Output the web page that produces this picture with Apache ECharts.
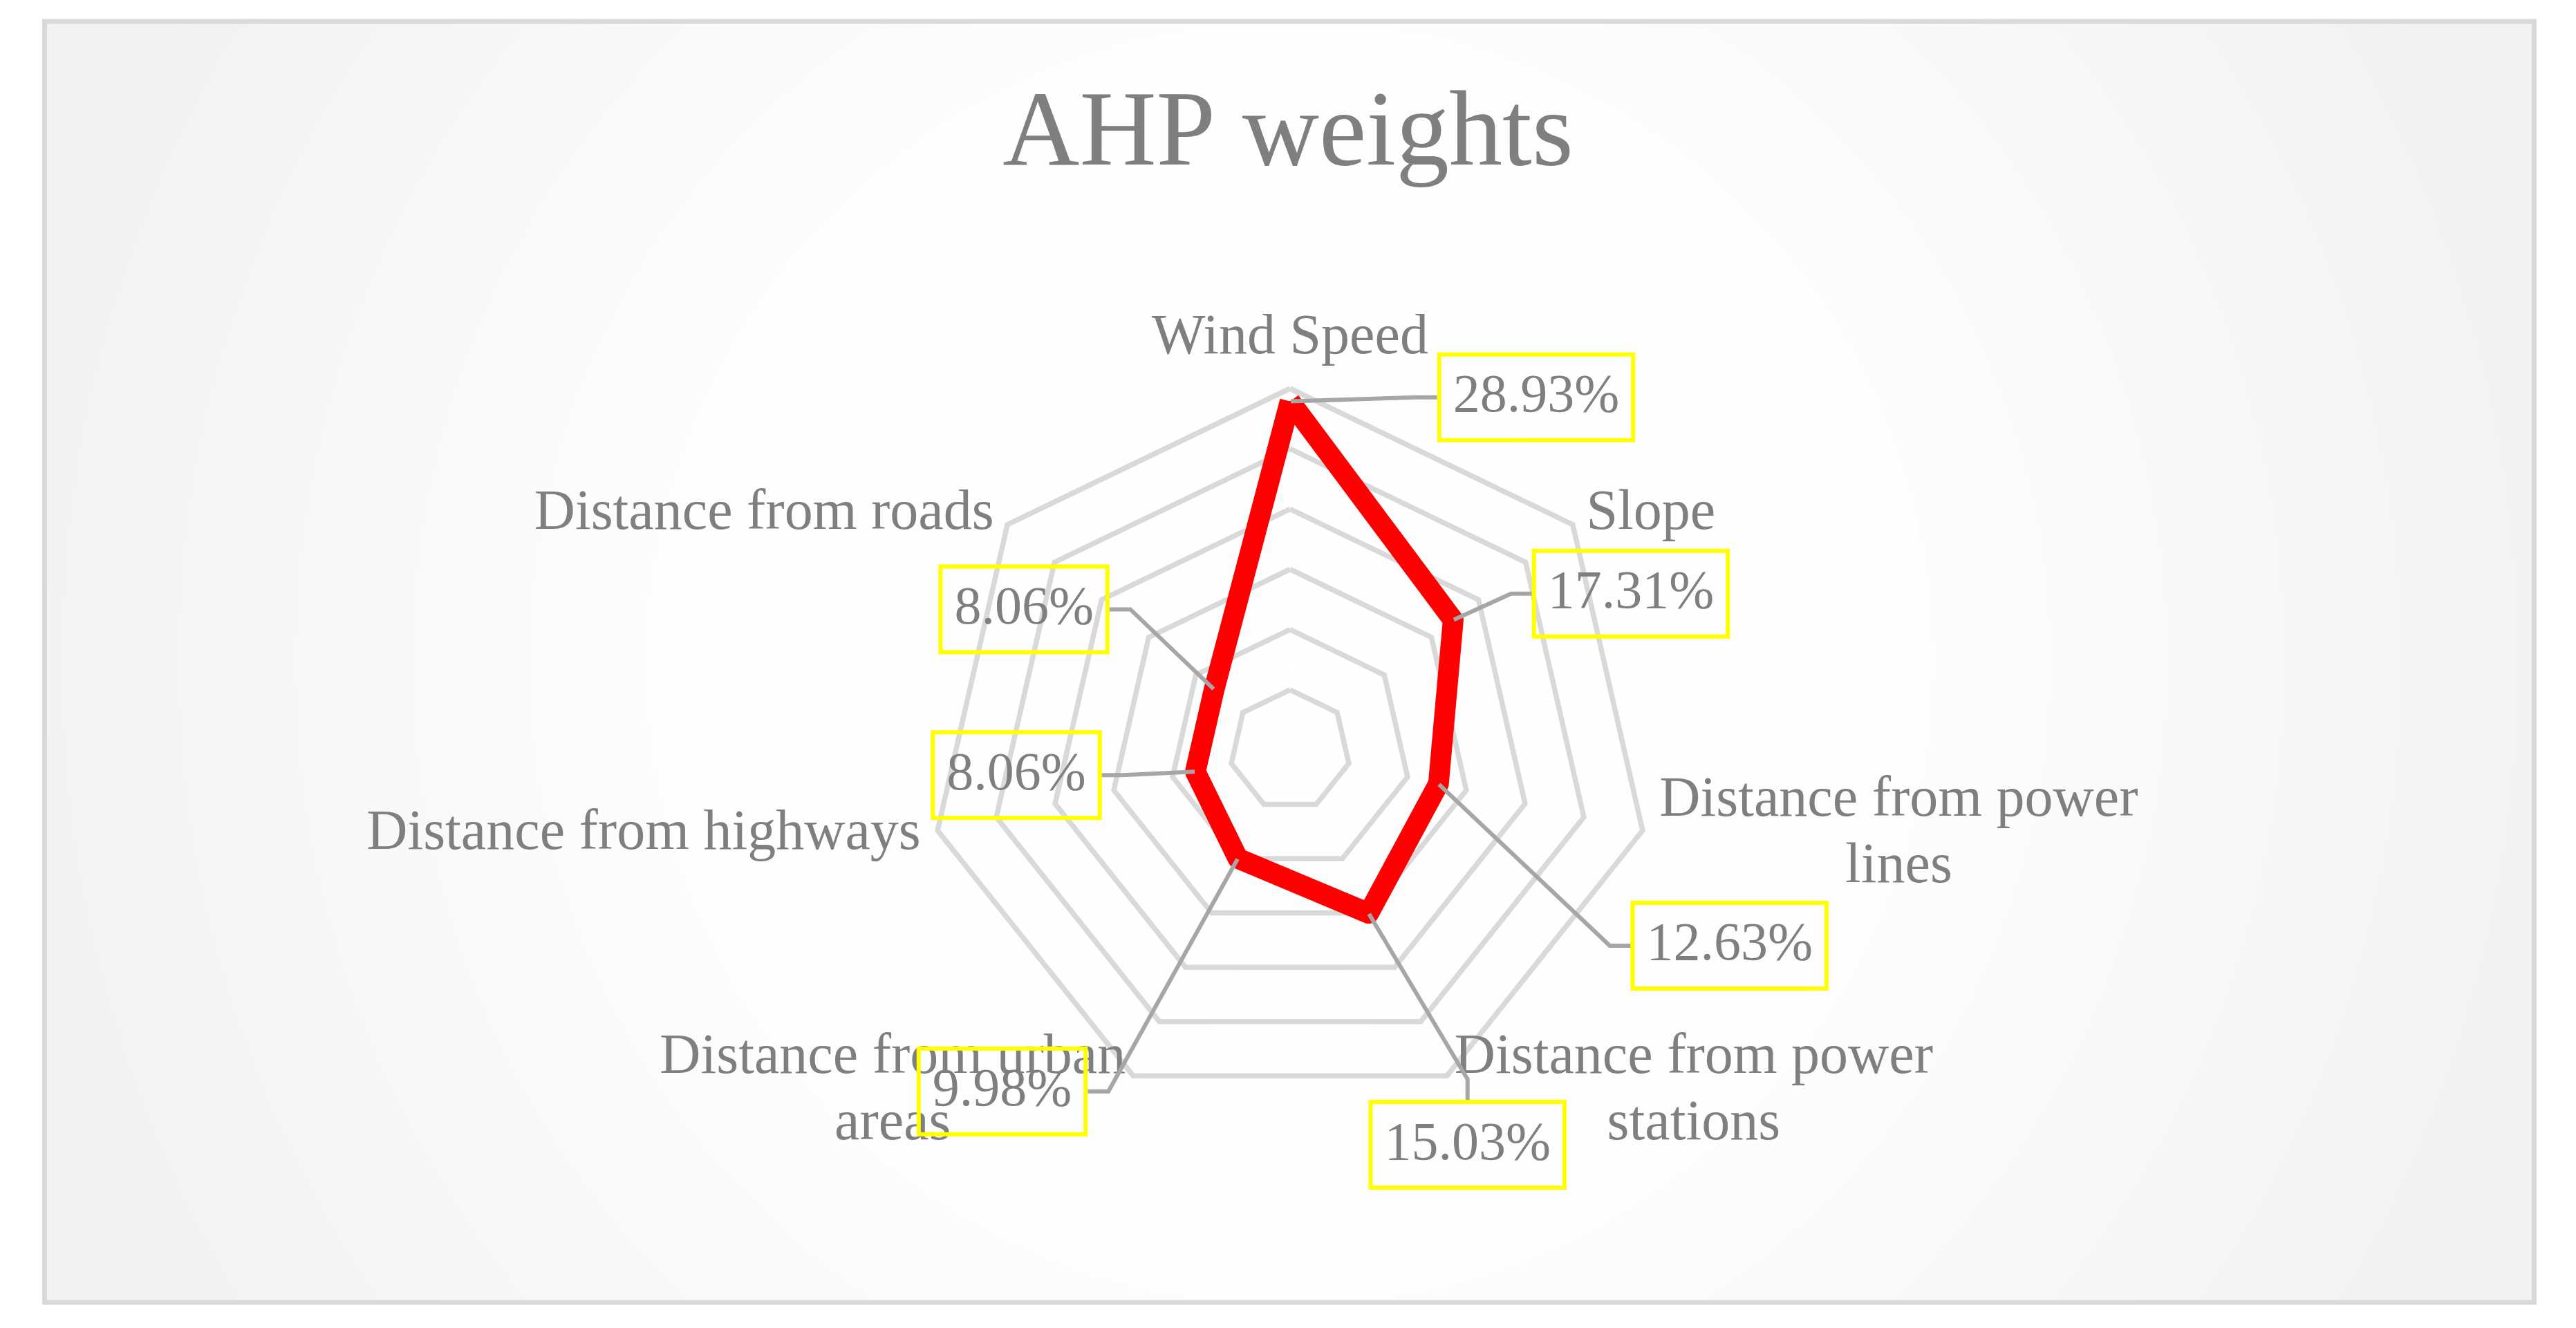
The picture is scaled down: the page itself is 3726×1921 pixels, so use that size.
<!DOCTYPE html>
<html>
<head>
<meta charset="utf-8">
<title>AHP weights</title>
<script src="https://cdn.jsdelivr.net/npm/echarts@6/dist/echarts.min.js"></script>
<style>
  html, body { margin: 0; padding: 0; background: #ffffff; }
  #main { width: 3726px; height: 1921px; }
</style>
</head>
<body>
<div id="main"></div>
<script>
// criteria, in the order Excel draws them (clockwise from the top)
const criteria = [
  'Wind Speed',
  'Slope',
  'Distance from power lines',
  'Distance from power stations',
  'Distance from urban areas',
  'Distance from highways',
  'Distance from roads'
]
// AHP weights in %
const weights = [28.93, 17.31, 12.63, 15.03, 9.98, 8.06, 8.06]
// value axis: 0 .. 30 in steps of 5 (6 rings)
const axisMax = 30
const axisStep = 5

// where Excel dragged each data label (box centre relative to its point, px)
const labelShift = [
  [356, -6],
  [257, -38],
  [421, 234],
  [143, 335],
  [-341, 337],
  [-259, 5],
  [-275, -116]
]

const radarCenter = [1866, 1085]
const radarRadius = 523
const grey = '#7f7f7f'
const serif = "'Liberation Serif', 'Times New Roman', serif"

// echarts lays indicators out counter-clockwise, Excel clockwise
let order = criteria.map((c, i) => (criteria.length - i) % criteria.length)

// Excel wraps the long names after the third word
let wrapName = (name) => {
  let words = name.split(' ')
  if (words.length <= 3) {
    return '{c|' + name + '}'
  }
  return '{c|' + words.slice(0, 3).join(' ') + '}\n{c|' + words.slice(3).join(' ') + '}'
}

let chart = echarts.init(document.getElementById('main'), null, {
  width: 3726,
  height: 1921
})

let option = {
  animation: false,
  backgroundColor: '#ffffff',
  graphic: [
    {
      type: 'rect',
      z: -10,
      shape: { x: 64.5, y: 31, width: 3601, height: 1853 },
      style: {
        fill: {
          type: 'radial',
          x: 0.5,
          y: 0.5,
          r: 1,
          colorStops: [
            { offset: 0, color: '#ffffff' },
            { offset: 0.5, color: '#fdfdfd' },
            { offset: 1, color: '#f2f2f2' }
          ]
        },
        stroke: '#d9d9d9',
        lineWidth: 7
      }
    }
  ],
  title: {
    text: 'AHP weights',
    left: 'center',
    top: 116,
    textStyle: {
      color: grey,
      fontFamily: serif,
      fontWeight: 'normal',
      fontSize: 154
    }
  },
  radar: {
    center: radarCenter,
    radius: radarRadius,
    startAngle: 90,
    shape: 'polygon',
    splitNumber: axisMax / axisStep,
    axisNameGap: 25,
    indicator: order.map(i => ({ name: criteria[i], min: 0, max: axisMax })),
    axisName: {
      formatter: (name) => wrapName(name),
      color: grey,
      fontFamily: serif,
      fontSize: 82,
      rich: {
        c: {
          align: 'center',
          color: grey,
          fontFamily: serif,
          fontSize: 82,
          lineHeight: 96
        }
      }
    },
    // no spokes, only the grey rings
    axisLine: { show: false },
    axisTick: { show: false },
    axisLabel: { show: false },
    splitArea: { show: false },
    splitLine: {
      lineStyle: {
        color: '#d9d9d9',
        width: 7.5
      }
    }
  },
  series: [
    {
      name: 'AHP weights',
      type: 'radar',
      symbol: 'circle',
      symbolSize: 2,
      itemStyle: { color: '#ff0000' },
      lineStyle: {
        color: '#ff0000',
        width: 30,
        join: 'round'
      },
      label: {
        show: true,
        formatter: (p) => p.value.toFixed(2) + '%',
        color: grey,
        fontFamily: serif,
        fontSize: 78,
        lineHeight: 80,
        padding: [22, 20],
        borderColor: '#ffff00',
        borderWidth: 6
      },
      labelLine: {
        show: true,
        length2: 30,
        lineStyle: {
          color: '#a6a6a6',
          width: 6
        }
      },
      // put each label where it sits in the reference, found from the point's angle
      labelLayout: (params) => {
        let px = params.rect.x + params.rect.width / 2
        let py = params.rect.y + params.rect.height / 2
        let ang = Math.atan2(radarCenter[1] - py, px - radarCenter[0]) * 180 / Math.PI
        let step = 360 / criteria.length
        let k = Math.round((90 - ang) / step)
        k = ((k % criteria.length) + criteria.length) % criteria.length
        return {
          x: px + labelShift[k][0],
          y: py + labelShift[k][1],
          align: 'center',
          verticalAlign: 'middle'
        }
      },
      data: [
        {
          name: 'AHP weights',
          value: order.map(i => weights[i])
        }
      ]
    }
  ]
}

chart.setOption(option)
</script>
</body>
</html>
